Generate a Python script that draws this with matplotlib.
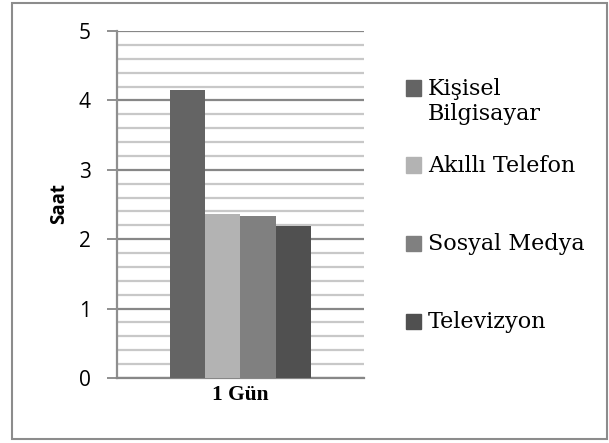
import matplotlib.pyplot as plt
from matplotlib.patches import Rectangle

# data
category = "1 Gün"
series = ["Kişisel\nBilgisayar", "Akıllı Telefon", "Sosyal Medya", "Televizyon"]
hours = [4.15, 2.36, 2.33, 2.19]
colors = ["#646464", "#b3b3b3", "#808080", "#505050"]
yticks = [0, 1, 2, 3, 4, 5]

W, H = 609, 443
fig = plt.figure(figsize=(W / 100, H / 100), dpi=100)
ax = fig.add_axes([117 / W, 65 / H, 247 / W, 347 / H])

bar_w = 0.1437
offsets = [(i - 1.5) * bar_w for i in range(len(series))]
for off, val, col in zip(offsets, hours, colors):
    ax.bar(off, val, width=bar_w, color=col, zorder=3)

ax.set_xlim(-0.5, 0.5)
ax.set_ylim(0, 5)
ax.set_yticks(yticks)
ax.set_yticks([v / 5 for v in range(26)], minor=True)
ax.set_xticks([])
ax.grid(axis="y", which="major", color="#878787", lw=1.6, zorder=0)
ax.grid(axis="y", which="minor", color="#c8c8c8", lw=1.6, zorder=0)
ax.tick_params(axis="y", which="major", length=7, width=1.3, color="#878787",
               labelsize=15, pad=12)
ax.tick_params(axis="y", which="minor", length=0)
for lab in ax.get_yticklabels():
    lab.set_family("Open Sans")

for side in ["top", "right"]:
    ax.spines[side].set_visible(False)
ax.spines["left"].set_color("#8f8f8f")
ax.spines["left"].set_linewidth(1.6)
ax.spines["bottom"].set_color("#878787")
ax.spines["bottom"].set_linewidth(1.6)

fig.text(59 / W, 1 - 203 / H, "Saat", rotation=90, ha="center", va="center",
         fontsize=13.5, fontweight="bold", family="Open Sans")
fig.text(240 / W, 1 - 395 / H, category, ha="center", va="center",
         fontsize=15.5, fontweight="bold", family="Liberation Serif")

# legend drawn by hand
leg_y = [88, 165, 243, 321]
for lab, col, y in zip(series, colors, leg_y):
    fig.patches.append(Rectangle((406 / W, 1 - (y + 7.5) / H), 15 / W, 15 / H,
                                 transform=fig.transFigure, color=col))
    fig.text(428 / W, 1 - (y - 10) / H, lab, ha="left", va="top", fontsize=16,
             family="DejaVu Serif", linespacing=1.2)

# outer frame
fig.patches.append(Rectangle((12 / W, 1 - 439 / H), 595 / W, 436 / H,
                             transform=fig.transFigure, fill=False,
                             edgecolor="#8c8c8c", lw=1.5))

fig.savefig("out.png", dpi=100)
